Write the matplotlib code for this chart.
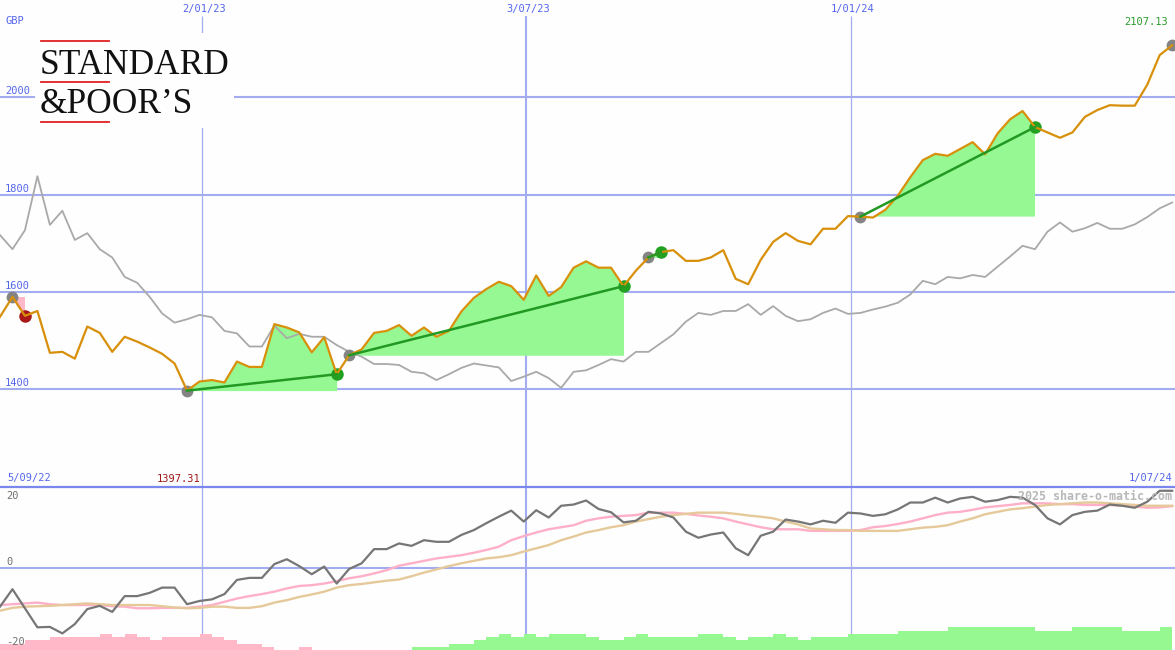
import numpy as np
import matplotlib
matplotlib.use("Agg")
import matplotlib.pyplot as plt
from matplotlib.lines import Line2D
from matplotlib.patches import Rectangle

# ---------------- data ----------------
price = [1549, 1590, 1551, 1561, 1475, 1477, 1463, 1529, 1516, 1477,
         1508, 1498, 1486, 1473, 1453, 1397.31, 1416, 1419, 1414, 1457,
         1446, 1446, 1534, 1527, 1517, 1476, 1507, 1431, 1470, 1482,
         1516, 1520, 1532, 1510, 1527, 1508, 1520, 1560, 1588, 1606,
         1621, 1612, 1584, 1634, 1592, 1610, 1650, 1663, 1650, 1650,
         1612, 1644, 1671, 1682, 1686, 1664, 1664, 1671, 1686, 1627,
         1616, 1666, 1703, 1721, 1705, 1698, 1730, 1730, 1756, 1755,
         1753, 1769, 1798, 1836, 1871, 1884, 1880, 1894, 1908, 1883,
         1926, 1955, 1972, 1939, 1928, 1917, 1928, 1960, 1974, 1984,
         1983, 1983, 2026, 2087, 2107.13]

compare = [1717, 1688, 1727, 1838, 1738, 1767, 1707, 1721, 1688, 1671,
           1631, 1619, 1590, 1556, 1537, 1544, 1553, 1548, 1520, 1515,
           1488, 1488, 1531, 1505, 1514, 1508, 1508, 1491, 1477, 1467,
           1452, 1452, 1450, 1436, 1433, 1419, 1431, 1444, 1453, 1449,
           1445, 1417, 1426, 1436, 1423, 1403, 1436, 1439, 1450, 1462,
           1457, 1477, 1477, 1495, 1513, 1539, 1557, 1553, 1561, 1561,
           1575, 1553, 1571, 1551, 1540, 1544, 1557, 1566, 1555, 1557,
           1564, 1570, 1578, 1595, 1623, 1616, 1631, 1628, 1635, 1631,
           1652, 1673, 1695, 1688, 1724, 1743, 1724, 1731, 1742, 1730,
           1730, 1739, 1754, 1772, 1784]

entry_idx = [1, 15, 28, 52, 69, 94]
exit_idx = [2, 27, 50, 53, 83]

momentum = [-9.6, -5.3, -10.0, -14.7, -14.6, -16.2, -13.9, -10.2, -9.4, -10.9,
            -7.0, -7.0, -6.2, -4.9, -4.9, -9.0, -8.2, -7.8, -6.5, -3.0,
            -2.5, -2.5, 0.9, 2.1, 0.4, -1.6, 0.3, -3.9, -0.3, 1.1,
            4.6, 4.6, 6.0, 5.4, 6.8, 6.4, 6.4, 8.1, 9.3, 11.0,
            12.6, 14.1, 11.4, 14.2, 12.4, 15.3, 15.6, 16.6, 14.5, 13.7,
            11.2, 11.6, 13.8, 13.4, 12.4, 8.9, 7.4, 8.2, 8.7, 4.8,
            3.1, 7.9, 8.9, 11.9, 11.4, 10.7, 11.6, 11.1, 13.6, 13.4,
            12.8, 13.2, 14.4, 16.1, 16.1, 17.3, 16.1, 17.1, 17.5, 16.3,
            16.7, 17.5, 17.3, 15.5, 12.2, 10.7, 13.0, 13.8, 14.1, 15.6,
            15.3, 14.8, 16.3, 19.0, 19.0]

fast_ma = [-9.2, -9.0, -8.8, -8.6, -9.0, -9.2, -9.2, -9.2, -9.2, -9.5,
           -9.6, -10.0, -10.0, -9.9, -9.9, -9.9, -9.6, -9.2, -8.4, -7.6,
           -7.0, -6.5, -5.9, -5.1, -4.5, -4.3, -3.9, -3.3, -2.6, -2.1,
           -1.4, -0.6, 0.5, 1.1, 1.7, 2.3, 2.7, 3.1, 3.7, 4.4,
           5.2, 6.8, 7.8, 8.7, 9.5, 10.0, 10.5, 11.6, 12.2, 12.6,
           12.8, 13.0, 13.6, 13.6, 13.6, 13.3, 12.9, 12.6, 12.2, 11.4,
           10.7, 10.0, 9.5, 9.5, 9.5, 9.1, 9.1, 9.1, 9.1, 9.3,
           10.0, 10.3, 10.8, 11.4, 12.2, 13.0, 13.6, 13.8, 14.3, 14.9,
           15.2, 15.5, 15.9, 15.9, 15.9, 15.7, 15.7, 15.5, 15.5, 15.5,
           15.3, 15.1, 14.8, 14.9, 15.2]

slow_ma = [-10.6, -9.9, -9.6, -9.5, -9.4, -9.2, -9.0, -8.8, -9.0, -9.2,
           -9.2, -9.2, -9.2, -9.5, -9.8, -10.0, -9.9, -9.6, -9.6, -9.9,
           -9.9, -9.5, -8.6, -8.0, -7.2, -6.6, -5.9, -4.9, -4.3, -4.0,
           -3.6, -3.2, -2.9, -2.1, -1.2, -0.4, 0.4, 1.1, 1.7, 2.3,
           2.6, 3.1, 4.0, 4.8, 5.6, 6.8, 7.7, 8.7, 9.3, 10.0,
           10.5, 11.4, 12.0, 12.6, 13.0, 13.3, 13.6, 13.6, 13.6, 13.3,
           12.9, 12.6, 12.2, 11.4, 10.7, 9.7, 9.5, 9.3, 9.3, 9.1,
           9.1, 9.1, 9.1, 9.5, 9.9, 10.1, 10.5, 11.4, 12.2, 13.2,
           13.8, 14.4, 14.7, 15.1, 15.5, 15.7, 15.9, 16.1, 16.1, 15.9,
           15.7, 15.5, 15.3, 15.3, 15.3]

# signed histogram levels (one per interval between points)
hist = [-2, -2, -3, -3, -4, -4, -4, -4, -5, -4,
        -5, -4, -3, -4, -4, -4, -5, -4, -3, -2,
        -2, -1, 0, 0, -1, 0, 0, 0, 0, 0,
        0, 0, 0, 1, 1, 1, 2, 2, 3, 4,
        5, 4, 5, 4, 5, 5, 5, 4, 3, 3,
        4, 5, 4, 4, 4, 4, 5, 5, 4, 3,
        4, 4, 5, 4, 3, 4, 4, 4, 5, 5,
        5, 5, 6, 6, 6, 6, 7, 7, 7, 7,
        7, 7, 7, 6, 6, 6, 7, 7, 7, 7,
        6, 6, 6, 7]
hist_unit = 0.8

date_labels = ["2/01/23", "3/07/23", "1/01/24"]
date_pos = [16.2, 42.2, 68.25]
date_lw = [0.9, 1.5, 0.9]
price_ticks = [1400, 1600, 1800, 2000]
mom_ticks = [20, 0, -20]

# ---------------- style ----------------
W, H = 1175, 650
GRID = '#a3acf0'
BLUE_TXT = '#5566ee'
ORANGE = '#d8900a'
GREYLINE = '#a9a9a9'
FILLG = '#96f893'
FILLR = '#ffb8c8'
TRENDG = '#229922'
MONO = 'DejaVu Sans Mono'

fig = plt.figure(figsize=(W / 100, H / 100), dpi=100)
fig.patch.set_facecolor('#fdfefd')

split = 487
ax = fig.add_axes([0, (H - split) / H, 1, split / H])
ax2 = fig.add_axes([0, 0, 1, (H - split) / H])
for a in (ax, ax2):
    a.set_facecolor('#fdfefd')
    a.set_axis_off()

x = np.arange(len(price))
p = np.array(price, dtype=float)
XMAX = W / 12.47
ax.set_xlim(0, XMAX)
ax.set_ylim(1199.2, 2200.2)
ax2.set_xlim(0, XMAX)
ax2.set_ylim(-20.3, 19.93)

# grid
for t in price_ticks:
    ax.axhline(t, color=GRID, lw=1.5, zorder=1)
for pos, lw in zip(date_pos, date_lw):
    ax.vlines(pos, 1199.2, 2168, color=GRID, lw=lw, zorder=1)
    ax2.axvline(pos, color=GRID, lw=lw, zorder=1)
ax2.axhline(0, color=GRID, lw=1.5, zorder=1)
fig.add_artist(Line2D([0, 1], [(H - split) / H] * 2, color='#7a88ee', lw=1.6, zorder=5))

# trade fills and trend lines
for b, s in zip(entry_idx, exit_idx):
    xs = x[b:s + 1]
    ys = p[b:s + 1]
    base = p[b]
    ax.fill_between(xs, base, ys, where=ys >= base, interpolate=True,
                    color=FILLG, lw=0, zorder=2)
    ax.fill_between(xs, base, ys, where=ys < base, interpolate=True,
                    color=FILLR, lw=0, zorder=2)
    if p[s] >= p[b]:
        ax.plot([x[b], x[s]], [p[b], p[s]], color=TRENDG, lw=1.8, zorder=6)

ax.plot(x, compare, color=GREYLINE, lw=1.3, zorder=3)

# markers
ax.plot(x[entry_idx], p[entry_idx], 'o', color='#848484', ms=8.5, mew=0, zorder=4)
for b, s in zip(entry_idx, exit_idx):
    c = '#22a022' if p[s] >= p[b] else '#a81818'
    ax.plot(x[s], p[s], 'o', color=c, ms=9, mew=0, zorder=4)

ax.plot(x, p, color=ORANGE, lw=1.6, zorder=5)

# lower panel
h = np.array(hist, dtype=float) * hist_unit
ax2.bar(x[:-1], np.abs(h), width=1.0, align='edge', bottom=-20.3,
        color=[FILLR if v < 0 else '#96f890' for v in h], lw=0, zorder=2)
ax2.plot(x, fast_ma, color='#ffb0c8', lw=1.7, zorder=3)
ax2.plot(x, slow_ma, color='#e6c99a', lw=1.7, zorder=3)
ax2.plot(x, momentum, color='#767676', lw=1.6, zorder=4)


def ftext(xp, yp, s, **kw):
    fig.text(xp / W, 1 - yp / H, s, **kw)


# logo
fig.add_artist(Rectangle((35 / W, 1 - 128 / H), 199 / W, 95 / H,
                         transform=fig.transFigure, facecolor='#fdfefd',
                         edgecolor='none', zorder=3))
for yl in (41, 82, 122):
    fig.add_artist(Line2D([41 / W, 109 / W], [1 - yl / H] * 2,
                          color='#e02020', lw=1.3, zorder=4))
ftext(40, 74, "STANDARD", family='Liberation Serif', fontsize=25.5,
      color='#111111', va='baseline', ha='left', zorder=5)
ftext(40, 113, "&POOR\u2019S", family='Liberation Serif', fontsize=25.5,
      color='#111111', va='baseline', ha='left', zorder=5)

# labels
lab = dict(family=MONO, fontsize=7.5, va='center')
ftext(5, 21, "GBP", color=BLUE_TXT, ha='left', **lab)
for t in price_ticks:
    ypx = 389.3 - (t - 1400) * 0.4865
    ftext(5, ypx - 6, f"{t}", color=BLUE_TXT, ha='left', **lab)
for s, pos in zip(date_labels, date_pos):
    ftext(pos * 12.47 + 2, 9, s, color=BLUE_TXT, ha='center', **lab)
ftext(7, 478.5, "5/09/22", color=BLUE_TXT, ha='left', **lab)
ftext(1172, 478.5, "1/07/24", color=BLUE_TXT, ha='right', **lab)
ftext(200, 478.5, f"{price[entry_idx[1]]:.2f}", color='#a01818', ha='right', **lab)
ftext(1168, 22, f"{price[-1]:.2f}", color='#2a9a2a', ha='right', **lab)
for t, ypx in zip(mom_ticks, [496, 562, 642]):
    ftext(6, ypx, f"{t}", color='#707070', ha='left', **lab)
ftext(1172, 496, "2025 share-o-matic.com", family=MONO, fontsize=8.4,
      weight='bold', color='#b8b8b8', ha='right', va='center', zorder=10)

fig.savefig('out.png', dpi=100, facecolor=fig.get_facecolor())
